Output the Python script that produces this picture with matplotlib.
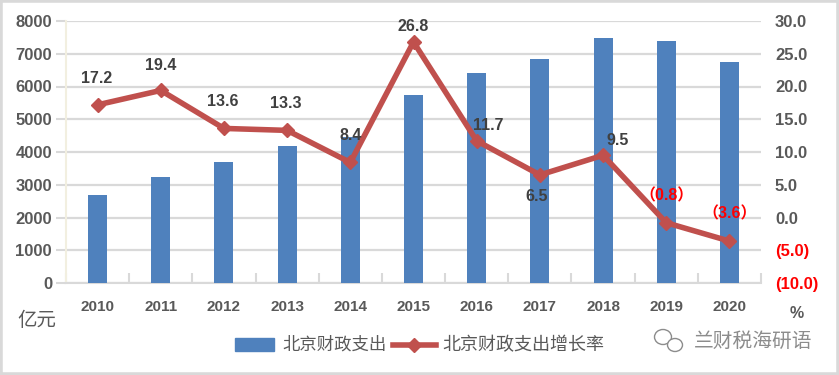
import matplotlib

matplotlib.use("Agg")
import matplotlib.pyplot as plt
from matplotlib.patches import Ellipse, Rectangle
import numpy as np

plt.rcParams["font.family"] = ["Noto Sans CJK SC", "DejaVu Sans"]

W, H = 839, 375

years = ["2010", "2011", "2012", "2013", "2014", "2015", "2016", "2017", "2018", "2019", "2020"]
spending = [2700, 3250, 3680, 4170, 4450, 5730, 6400, 6830, 7470, 7400, 6760]
growth = [17.2, 19.4, 13.6, 13.3, 8.4, 26.8, 11.7, 6.5, 9.5, -0.8, -3.6]
growth_labels = ["17.2", "19.4", "13.6", "13.3", "8.4", "26.8", "11.7", "6.5", "9.5", "（0.8）", "（3.6）"]
left_ticks = [0, 1000, 2000, 3000, 4000, 5000, 6000, 7000, 8000]
right_ticks = [-10, -5, 0, 5, 10, 15, 20, 25, 30]
right_labels = ["(10.0)", "(5.0)", "0.0", "5.0", "10.0", "15.0", "20.0", "25.0", "30.0"]

# label offsets from the marker, in pixels
label_dx = [-1, 0, -1, -1, 0, 0, 12, -3, 15, 0, 0]
label_dy = [26, 25, 27, 27, 27, 15, 15, -22, 15, 27, 27]

BLUE = "#4f81bd"
RED = "#c0504d"
TEXT = "#595959"
GRID = "#d9d9d9"

fig = plt.figure(figsize=(W / 100, H / 100), dpi=100, facecolor="white")
ax = fig.add_axes([66 / W, 1 - 283 / H, 695 / W, 262 / H])

x = np.arange(len(years))
ax.bar(x, spending, width=0.3, color=BLUE, zorder=3)
ax.set_xlim(-0.5, len(years) - 0.5)
ax.set_ylim(0, 8000)
ax.set_yticks(left_ticks)
ax.set_yticklabels([str(v) for v in left_ticks], fontsize=12, fontweight="bold", color=TEXT, family="Liberation Sans")
ax.grid(axis="y", color=GRID, linewidth=1.6, zorder=0)
ax.tick_params(axis="y", length=7, color=GRID, width=1.5, pad=3)

ax.set_xticks(list(x - 0.5) + [len(years) - 0.5])
ax.set_xticklabels([])
ax.tick_params(axis="x", direction="in", length=7, color=GRID, width=1.5)
for xi, year in zip(x, years):
    ax.annotate(year, (xi, 0), xytext=(0, -17), textcoords="offset points", ha="center", va="center",
                fontsize=11, fontweight="bold", color=TEXT, family="Liberation Sans")

for side in ["top", "right"]:
    ax.spines[side].set_visible(False)
ax.spines["left"].set_color("#f2efe0")
ax.spines["left"].set_linewidth(1.5)
ax.spines["bottom"].set_color(GRID)
ax.spines["bottom"].set_linewidth(1.5)

ax2 = ax.twinx()
ax2.set_ylim(-10, 30)
ax2.set_yticks(right_ticks)
ax2.set_yticklabels(right_labels, fontsize=12, fontweight="bold", family="Liberation Sans")
for lab, v in zip(ax2.get_yticklabels(), right_ticks):
    lab.set_color("#ff0000" if v < 0 else TEXT)
ax2.tick_params(axis="y", length=0, pad=10)
for spine in ax2.spines.values():
    spine.set_visible(False)
ax2.plot(x, growth, color=RED, linewidth=4, marker="D", markersize=7, zorder=5, solid_joinstyle="round")

for xi, v, lab, dx, dy in zip(x, growth, growth_labels, label_dx, label_dy):
    ax2.annotate(lab, (xi, v), xytext=(dx * 0.72, dy * 0.72), textcoords="offset points", ha="center", va="center",
                 fontsize=11.5, fontweight="bold", color="#ff0000" if v < 0 else "#404040", zorder=6,
                 family=["Liberation Sans", "Noto Sans CJK SC"])

fig.text(37 / W, 1 - 321 / H, "亿元", fontsize=14, color=TEXT, ha="center", va="center")
fig.text(797 / W, 1 - 313 / H, "%", fontsize=11.5, fontweight="bold", color=TEXT, ha="center", va="center", family="Liberation Sans")

# legend, placed by hand to sit under the plot like the original
fig.add_artist(Rectangle((235 / W, 1 - 351 / H), 39 / W, 13 / H, transform=fig.transFigure, color=BLUE))
fig.text(282 / W, 1 - 345 / H, "北京财政支出", fontsize=12.5, color=TEXT, va="center")
fig.add_artist(plt.Line2D([393 / W, 436 / W], [1 - 345 / H] * 2, transform=fig.transFigure, color=RED, linewidth=4))
fig.add_artist(plt.Line2D([414 / W], [1 - 345 / H], transform=fig.transFigure, color=RED, marker="D", markersize=7))
fig.text(442 / W, 1 - 345 / H, "北京财政支出增长率", fontsize=13, color=TEXT, va="center")

# watermark
fig.text(694 / W, 1 - 341 / H, "兰财税海研语", fontsize=14.2, color="#8c8c8c", va="center")
fig.add_artist(Ellipse((663 / W, 1 - 337 / H), 17 / W, 15 / H, transform=fig.transFigure, fill=False, ec="#8c8c8c", lw=1))
fig.add_artist(Ellipse((675 / W, 1 - 345 / H), 15 / W, 13 / H, transform=fig.transFigure, fc="white", ec="#8c8c8c", lw=1))

# outer border
fig.add_artist(Rectangle((0, 0), 1, 1, transform=fig.transFigure, fill=False, ec=GRID, lw=4))

fig.savefig("out.png", dpi=100)
plt.close(fig)
